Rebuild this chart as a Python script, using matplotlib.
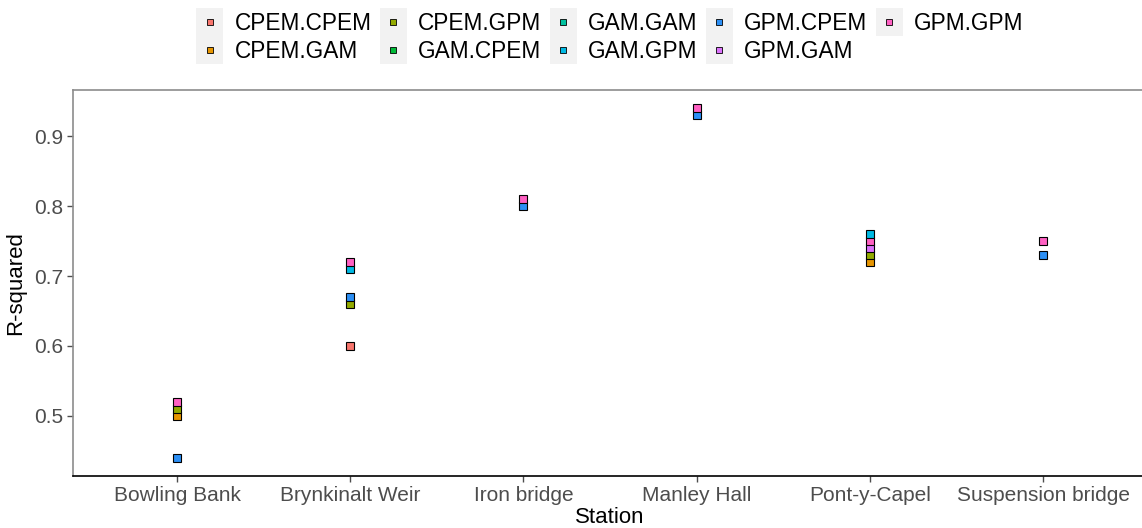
import matplotlib

matplotlib.use("Agg")
import matplotlib.pyplot as plt
from matplotlib.legend_handler import HandlerLine2D
from matplotlib.lines import Line2D
from matplotlib.patches import Rectangle

stations = [
    "Bowling Bank",
    "Brynkinalt Weir",
    "Iron bridge",
    "Manley Hall",
    "Pont-y-Capel",
    "Suspension bridge",
]

models = [
    "CPEM.CPEM", "CPEM.GAM", "CPEM.GPM", "GAM.CPEM", "GAM.GAM",
    "GAM.GPM", "GPM.CPEM", "GPM.GAM", "GPM.GPM",
]
model_colors = [
    "#F8766D", "#E69500", "#93AA00", "#00BA38", "#00C19F",
    "#00B9E3", "#2C8FF5", "#DB72FB", "#FF61C3",
]

# one entry per point: station, model pair, r-squared
point_station = [
    "Bowling Bank", "Bowling Bank", "Bowling Bank", "Bowling Bank",
    "Brynkinalt Weir", "Brynkinalt Weir", "Brynkinalt Weir", "Brynkinalt Weir", "Brynkinalt Weir",
    "Iron bridge", "Iron bridge",
    "Manley Hall", "Manley Hall",
    "Pont-y-Capel", "Pont-y-Capel", "Pont-y-Capel", "Pont-y-Capel", "Pont-y-Capel",
    "Suspension bridge", "Suspension bridge",
]
point_model = [
    "GPM.CPEM", "CPEM.GAM", "CPEM.GPM", "GPM.GPM",
    "CPEM.CPEM", "CPEM.GPM", "GPM.CPEM", "GAM.GPM", "GPM.GPM",
    "GPM.CPEM", "GPM.GPM",
    "GPM.CPEM", "GPM.GPM",
    "CPEM.GAM", "CPEM.GPM", "GPM.GAM", "GPM.GPM", "GAM.GPM",
    "GPM.CPEM", "GPM.GPM",
]
point_r2 = [
    0.44, 0.50, 0.51, 0.52,
    0.60, 0.66, 0.67, 0.71, 0.72,
    0.80, 0.81,
    0.93, 0.94,
    0.72, 0.73, 0.74, 0.75, 0.76,
    0.73, 0.75,
]


class KeyHandler(HandlerLine2D):
    """Legend key drawn on a light grey square, ggplot style."""

    def create_artists(self, legend, orig_handle, xdescent, ydescent,
                       width, height, fontsize, trans):
        side = width
        bg = Rectangle((-xdescent, -ydescent + (height - side) / 2),
                       side, side, facecolor="#F2F2F2", edgecolor="none",
                       transform=trans)
        artists = super().create_artists(legend, orig_handle, xdescent, ydescent,
                                         width, height, fontsize, trans)
        return [bg] + artists


def main() -> None:
    plt.rcParams["font.family"] = ["Liberation Sans", "DejaVu Sans"]
    fig = plt.figure(figsize=(11.42, 5.28), dpi=100)
    ax = fig.add_axes([0.064, 0.0985, 0.9405, 0.731])

    xpos = {s: i for i, s in enumerate(stations)}
    colors = dict(zip(models, model_colors))
    for s, m, v in zip(point_station, point_model, point_r2):
        ax.plot(xpos[s], v, marker="s", ms=5.8, mfc=colors[m], mec="black",
                mew=0.8, ls="none", zorder=3)

    ax.set_xlim(-0.6, len(stations) - 0.4)
    ax.set_ylim(0.414, 0.966)
    ax.set_xticks(range(len(stations)))
    ax.set_xticklabels(stations)
    ax.set_yticks([0.5, 0.6, 0.7, 0.8, 0.9])
    ax.set_yticklabels(["0.5", "0.6", "0.7", "0.8", "0.9"])
    ax.tick_params(axis="both", labelsize=15, colors="#4D4D4D", length=4,
                   width=1.0, pad=3)
    ax.set_xlabel("Station", fontsize=16, labelpad=2)
    ax.set_ylabel("R-squared", fontsize=16, labelpad=6)

    ax.spines["right"].set_visible(False)
    ax.spines["top"].set_color("#8C8C8C")
    ax.spines["left"].set_color("#8C8C8C")
    ax.spines["bottom"].set_color("black")
    for sp in ax.spines.values():
        sp.set_linewidth(1.2)

    handles = [
        Line2D([0], [0], marker="s", ms=4.5, mfc=c, mec="black", mew=0.6,
               ls="none", label=m)
        for m, c in zip(models, model_colors)
    ]
    fig.legend(handles=handles, loc="upper center", bbox_to_anchor=(0.534, 1.016),
               ncol=5, frameon=False, fontsize=16.3, handlelength=1.2,
               handletextpad=0.5, columnspacing=0.36, labelspacing=0.22,
               handler_map={Line2D: KeyHandler()})

    fig.savefig("out.png", dpi=100)


if __name__ == "__main__":
    main()
